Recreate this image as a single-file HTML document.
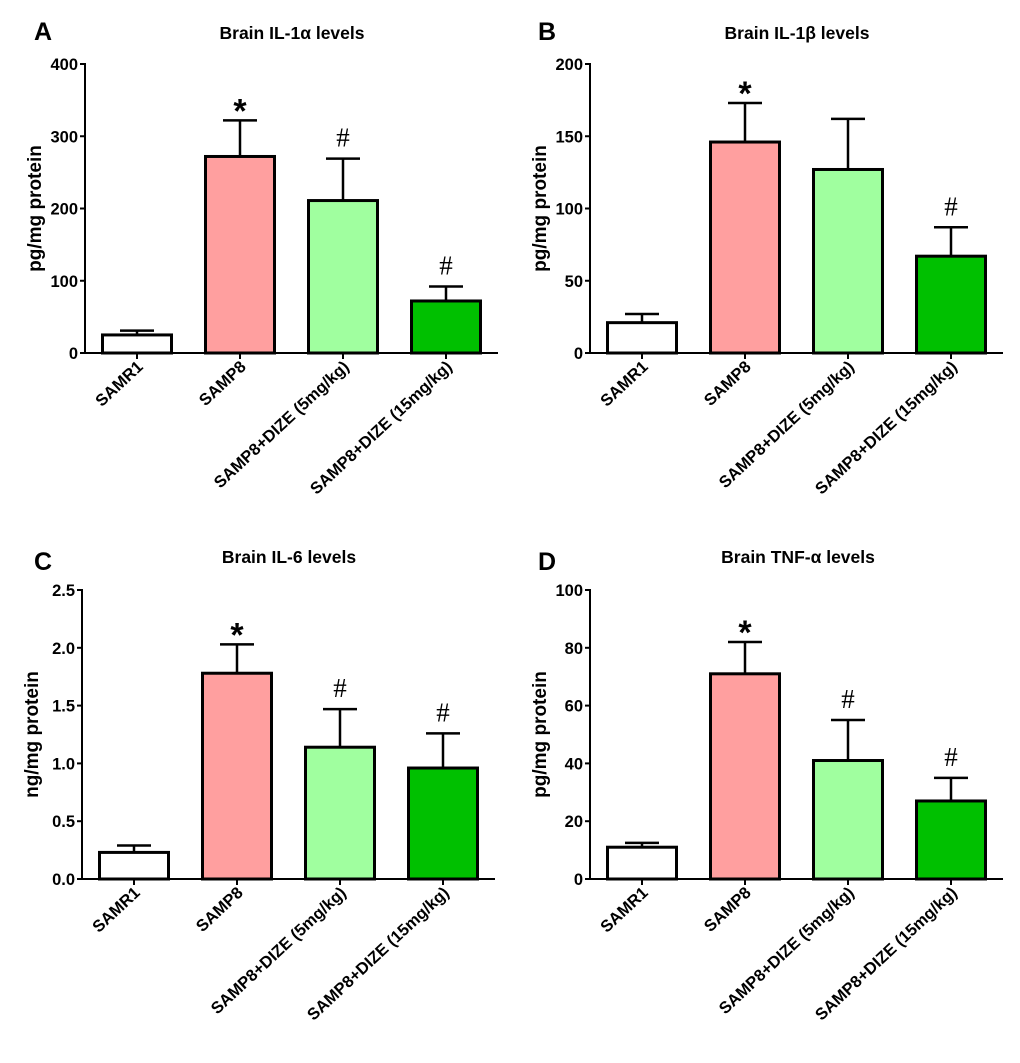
<!DOCTYPE html>
<html><head><meta charset="utf-8"><style>
body{margin:0;background:#fff}
svg{display:block;font-family:"Liberation Sans",Arial,sans-serif}
</style></head><body>
<svg id="fig" width="1020" height="1063" viewBox="0 0 1020 1063"></svg>
<script>
const categories = ["SAMR1","SAMP8","SAMP8+DIZE (5mg/kg)","SAMP8+DIZE (15mg/kg)"];
const colors = ["#ffffff","#ff9f9f","#a0ff9f","#00c000"];
const valuesA = [25,272,211,72];
const errA = [6,50,58,20];
const valuesB = [21,146,127,67];
const errB = [6,27,35,20];
const valuesC = [0.23,1.78,1.14,0.96];
const errC = [0.06,0.25,0.33,0.30];
const valuesD = [11,71,41,27];
const errD = [1.5,11,14,8];
const ticksA = [0,100,200,300,400];
const ticksB = [0,50,100,150,200];
const ticksC = ["0.0","0.5","1.0","1.5","2.0","2.5"];
const ticksD = [0,20,40,60,80,100];
const marksA = ["","*","#","#"];
const marksB = ["","*","","#"];
const marksC = ["","*","#","#"];
const marksD = ["","*","#","#"];

const NS="http://www.w3.org/2000/svg";
const svg=document.getElementById('fig');
function mk(tag,attrs,parent,text){const e=document.createElementNS(NS,tag);for(const k in attrs)e.setAttribute(k,attrs[k]);if(text!==undefined)e.textContent=text;(parent||svg).appendChild(e);return e;}

const panels=[
 {id:"a",letter:"A",title:"Brain IL-1\u03b1 levels",ylab:"pg/mg protein",ax:85,top:64,zero:353,vals:valuesA,errs:errA,ticks:ticksA,max:400,marks:marksA,lx:34,ly:40,tx:292,ty:39},
 {id:"b",letter:"B",title:"Brain IL-1\u03b2 levels",ylab:"pg/mg protein",ax:590,top:64,zero:353,vals:valuesB,errs:errB,ticks:ticksB,max:200,marks:marksB,lx:538,ly:40,tx:797,ty:39},
 {id:"c",letter:"C",title:"Brain IL-6 levels",ylab:"ng/mg protein",ax:82,top:590,zero:879,vals:valuesC,errs:errC,ticks:ticksC,max:2.5,marks:marksC,lx:34,ly:570,tx:289,ty:563},
 {id:"d",letter:"D",title:"Brain TNF-\u03b1 levels",ylab:"pg/mg protein",ax:590,top:590,zero:879,vals:valuesD,errs:errD,ticks:ticksD,max:100,marks:marksD,lx:538,ly:570,tx:798,ty:563}
];

panels.forEach(p=>{
  const g=mk('g',{});
  
  
  const y=v=>p.zero-(v/p.max)*(p.zero-p.top);
  const step=103, first=p.ax+52, bw=69;
  const xc=i=>first+i*step;
  const L=mk('text',{x:p.lx,y:p.ly,'font-size':25,'font-weight':'bold'},g,p.letter);
  
  
  const T=mk('text',{x:p.tx,y:p.ty,'font-size':17.5,'font-weight':'bold','text-anchor':'middle'},g,p.title);
  
  
  const yl=mk('text',{x:0,y:0,'font-size':19,'font-weight':'bold','text-anchor':'middle',transform:`translate(${p.ax-44},${(p.top+p.zero)/2}) rotate(-90)`},g,p.ylab);
  
  
  const ya=mk('line',{x1:p.ax,y1:p.top-1,x2:p.ax,y2:p.zero,stroke:'#000','stroke-width':2},g);
  
  
  const xa=mk('line',{x1:p.ax-5,y1:p.zero,x2:p.ax+413,y2:p.zero,stroke:'#000','stroke-width':2},g);
  
  
  p.ticks.forEach(t=>{
    const yy=y(parseFloat(t));
    mk('line',{x1:p.ax-5,y1:yy,x2:p.ax,y2:yy,stroke:'#000','stroke-width':2},g);
    const tl=mk('text',{x:p.ax-7,y:yy+6,'font-size':16.5,'font-weight':'bold','text-anchor':'end'},g,String(t));
    
    
  });
  categories.forEach((c,i)=>{
    const cx=xc(i), v=p.vals[i], e=p.errs[i];
    mk('line',{x1:cx,y1:y(v),x2:cx,y2:y(v+e),stroke:'#000','stroke-width':2.5},g);
    const cap=mk('line',{x1:cx-17,y1:y(v+e),x2:cx+17,y2:y(v+e),stroke:'#000','stroke-width':2.5},g);
    
    
    const r=mk('rect',{x:cx-bw/2,y:y(v),width:bw,height:p.zero-y(v),fill:colors[i],stroke:'#000','stroke-width':3},g);
    
    
    mk('line',{x1:cx,y1:p.zero,x2:cx,y2:p.zero+6,stroke:'#000','stroke-width':2},g);
    const xl=mk('text',{x:0,y:0,'font-size':16.5,'font-weight':'bold','text-anchor':'end',transform:`translate(${cx+7},${p.zero+15}) rotate(-43)`},g,c);
    
    
    const m=p.marks[i];
    if(m){
      const isStar=m==="*";
      const mt=mk('text',{x:cx,y:y(v+e)-(isStar?-2:12),'font-size':isStar?34:27,'font-weight':isStar?'bold':'normal','text-anchor':'middle','font-family':isStar?'"Liberation Sans",sans-serif':'"Liberation Serif",serif'},g,m);
      
      
    }
  });
});
</script>
</body></html>
